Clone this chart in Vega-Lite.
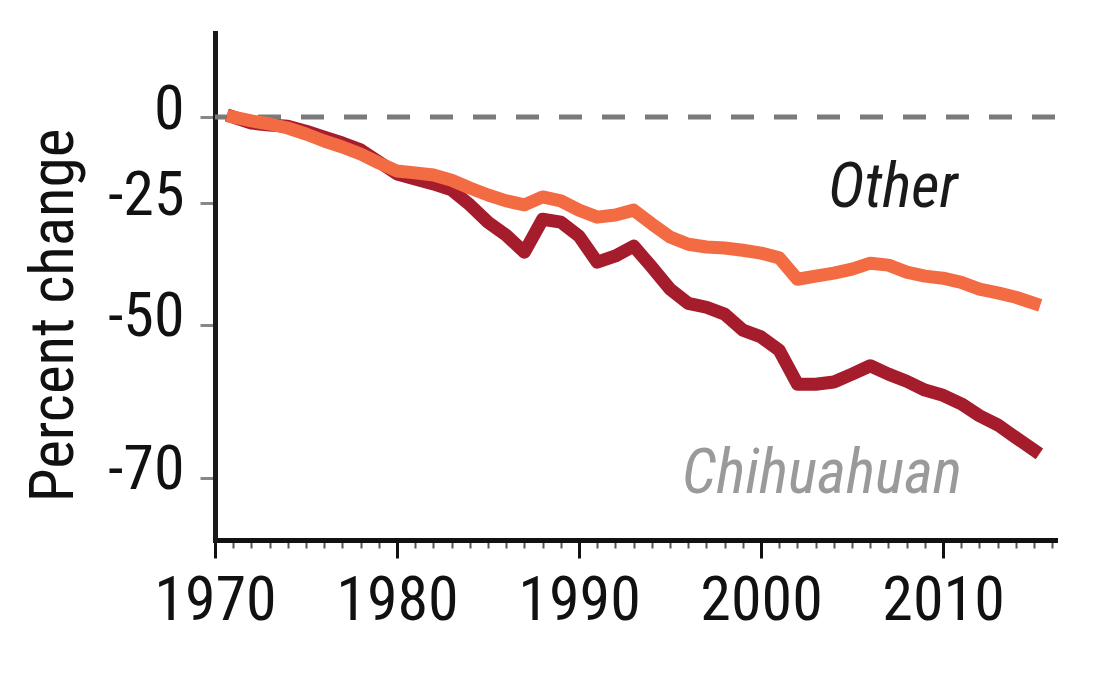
{
  "$schema": "https://vega.github.io/schema/vega-lite/v6.json",
  "width": 840,
  "height": 507,
  "autosize": {"type": "none"},
  "padding": {"left": 215, "top": 33, "right": 39, "bottom": 141},
  "background": "white",
  "config": {
    "view": {"stroke": null},
    "font": "Roboto Condensed, Liberation Sans Narrow, DejaVu Sans Condensed, sans-serif",
    "axisY": {
      "grid": false,
      "domainColor": "#1a1a1a",
      "domainWidth": 5,
      "domainCap": "square",
      "tickColor": "#888888",
      "tickWidth": 3,
      "tickSize": 15,
      "labelFontSize": 62,
      "labelColor": "#111111",
      "labelPadding": 16,
      "labelOffset": -8,
      "labelOverlap": false,
      "labelFlush": false,
      "titleFontSize": 61,
      "titleFontWeight": "normal",
      "titleColor": "#111111",
      "titleAngle": -90,
      "titleX": -143,
      "titleY": 282,
      "titleBaseline": "alphabetic",
      "titleAlign": "center"
    }
  },
  "datasets": {
    "trend": [
      {"year": 1971, "series": "Other", "value": 1.000},
      {"year": 1972, "series": "Other", "value": 0.987},
      {"year": 1973, "series": "Other", "value": 0.977},
      {"year": 1974, "series": "Other", "value": 0.964},
      {"year": 1975, "series": "Other", "value": 0.945},
      {"year": 1976, "series": "Other", "value": 0.923},
      {"year": 1977, "series": "Other", "value": 0.905},
      {"year": 1978, "series": "Other", "value": 0.884},
      {"year": 1979, "series": "Other", "value": 0.858},
      {"year": 1980, "series": "Other", "value": 0.835},
      {"year": 1981, "series": "Other", "value": 0.830},
      {"year": 1982, "series": "Other", "value": 0.824},
      {"year": 1983, "series": "Other", "value": 0.810},
      {"year": 1984, "series": "Other", "value": 0.789},
      {"year": 1985, "series": "Other", "value": 0.771},
      {"year": 1986, "series": "Other", "value": 0.756},
      {"year": 1987, "series": "Other", "value": 0.746},
      {"year": 1988, "series": "Other", "value": 0.766},
      {"year": 1989, "series": "Other", "value": 0.756},
      {"year": 1990, "series": "Other", "value": 0.733},
      {"year": 1991, "series": "Other", "value": 0.716},
      {"year": 1992, "series": "Other", "value": 0.721},
      {"year": 1993, "series": "Other", "value": 0.733},
      {"year": 1994, "series": "Other", "value": 0.700},
      {"year": 1995, "series": "Other", "value": 0.670},
      {"year": 1996, "series": "Other", "value": 0.654},
      {"year": 1997, "series": "Other", "value": 0.648},
      {"year": 1998, "series": "Other", "value": 0.646},
      {"year": 1999, "series": "Other", "value": 0.641},
      {"year": 2000, "series": "Other", "value": 0.635},
      {"year": 2001, "series": "Other", "value": 0.625},
      {"year": 2002, "series": "Other", "value": 0.582},
      {"year": 2003, "series": "Other", "value": 0.588},
      {"year": 2004, "series": "Other", "value": 0.594},
      {"year": 2005, "series": "Other", "value": 0.602},
      {"year": 2006, "series": "Other", "value": 0.614},
      {"year": 2007, "series": "Other", "value": 0.610},
      {"year": 2008, "series": "Other", "value": 0.596},
      {"year": 2009, "series": "Other", "value": 0.588},
      {"year": 2010, "series": "Other", "value": 0.584},
      {"year": 2011, "series": "Other", "value": 0.576},
      {"year": 2012, "series": "Other", "value": 0.563},
      {"year": 2013, "series": "Other", "value": 0.556},
      {"year": 2014, "series": "Other", "value": 0.548},
      {"year": 2015, "series": "Other", "value": 0.537},
      {"year": 1971, "series": "Chihuahuan", "value": 1.000},
      {"year": 1972, "series": "Chihuahuan", "value": 0.980},
      {"year": 1973, "series": "Chihuahuan", "value": 0.974},
      {"year": 1974, "series": "Chihuahuan", "value": 0.970},
      {"year": 1975, "series": "Chihuahuan", "value": 0.954},
      {"year": 1976, "series": "Chihuahuan", "value": 0.935},
      {"year": 1977, "series": "Chihuahuan", "value": 0.917},
      {"year": 1978, "series": "Chihuahuan", "value": 0.896},
      {"year": 1979, "series": "Chihuahuan", "value": 0.861},
      {"year": 1980, "series": "Chihuahuan", "value": 0.827},
      {"year": 1981, "series": "Chihuahuan", "value": 0.813},
      {"year": 1982, "series": "Chihuahuan", "value": 0.800},
      {"year": 1983, "series": "Chihuahuan", "value": 0.784},
      {"year": 1984, "series": "Chihuahuan", "value": 0.746},
      {"year": 1985, "series": "Chihuahuan", "value": 0.704},
      {"year": 1986, "series": "Chihuahuan", "value": 0.674},
      {"year": 1987, "series": "Chihuahuan", "value": 0.637},
      {"year": 1988, "series": "Chihuahuan", "value": 0.711},
      {"year": 1989, "series": "Chihuahuan", "value": 0.704},
      {"year": 1990, "series": "Chihuahuan", "value": 0.672},
      {"year": 1991, "series": "Chihuahuan", "value": 0.616},
      {"year": 1992, "series": "Chihuahuan", "value": 0.629},
      {"year": 1993, "series": "Chihuahuan", "value": 0.650},
      {"year": 1994, "series": "Chihuahuan", "value": 0.606},
      {"year": 1995, "series": "Chihuahuan", "value": 0.563},
      {"year": 1996, "series": "Chihuahuan", "value": 0.537},
      {"year": 1997, "series": "Chihuahuan", "value": 0.530},
      {"year": 1998, "series": "Chihuahuan", "value": 0.518},
      {"year": 1999, "series": "Chihuahuan", "value": 0.491},
      {"year": 2000, "series": "Chihuahuan", "value": 0.480},
      {"year": 2001, "series": "Chihuahuan", "value": 0.459},
      {"year": 2002, "series": "Chihuahuan", "value": 0.410},
      {"year": 2003, "series": "Chihuahuan", "value": 0.410},
      {"year": 2004, "series": "Chihuahuan", "value": 0.413},
      {"year": 2005, "series": "Chihuahuan", "value": 0.424},
      {"year": 2006, "series": "Chihuahuan", "value": 0.436},
      {"year": 2007, "series": "Chihuahuan", "value": 0.424},
      {"year": 2008, "series": "Chihuahuan", "value": 0.414},
      {"year": 2009, "series": "Chihuahuan", "value": 0.402},
      {"year": 2010, "series": "Chihuahuan", "value": 0.395},
      {"year": 2011, "series": "Chihuahuan", "value": 0.384},
      {"year": 2012, "series": "Chihuahuan", "value": 0.369},
      {"year": 2013, "series": "Chihuahuan", "value": 0.358},
      {"year": 2014, "series": "Chihuahuan", "value": 0.343},
      {"year": 2015, "series": "Chihuahuan", "value": 0.329}
    ]
  },
  "layer": [
    {
      "data": {"values": [{}]},
      "mark": {"type": "rule", "strokeDash": [23, 20], "color": "#7a7a7a", "strokeWidth": 5},
      "encoding": {
        "y": {"datum": 1, "type": "quantitative", "title": "Percent change",
              "scale": {"type": "log", "domain": [0.24373, 1.3238], "nice": false},
              "axis": {"values": [1, 0.75, 0.5, 0.3],
                       "labelExpr": "datum.value == 1 ? '0' : '-' + format((1 - datum.value) * 100, '.0f')"}}
      }
    },
    {
      "data": {"name": "trend"},
      "transform": [{"filter": "datum.series == 'Chihuahuan'"}],
      "mark": {"type": "line", "color": "#A51C2C", "strokeWidth": 13, "strokeJoin": "round", "strokeCap": "square"},
      "encoding": {
        "x": {"field": "year", "type": "quantitative",
              "scale": {"domain": [1970, 2016.15], "nice": false, "zero": false},
              "axis": {"orient": "bottom", "values": [1970,1971,1972,1973,1974,1975,1976,1977,1978,1979,1980,1981,1982,1983,1984,1985,1986,1987,1988,1989,1990,1991,1992,1993,1994,1995,1996,1997,1998,1999,2000,2001,2002,2003,2004,2005,2006,2007,2008,2009,2010,2011,2012,2013,2014,2015,2016],
                       "labels": false, "domain": false, "grid": false, "title": null,
                       "tickSize": 8, "tickWidth": 2, "tickColor": "#555555"}},
        "y": {"field": "value", "type": "quantitative", "title": "Percent change",
              "scale": {"type": "log", "domain": [0.24373, 1.3238], "nice": false}}
      }
    },
    {
      "data": {"name": "trend"},
      "transform": [{"filter": "datum.series == 'Other'"}],
      "mark": {"type": "line", "color": "#F26B43", "strokeWidth": 13, "strokeJoin": "round", "strokeCap": "square"},
      "encoding": {
        "x": {"field": "year", "type": "quantitative",
              "scale": {"domain": [1970, 2016.15], "nice": false, "zero": false},
              "axis": {"orient": "bottom", "values": [1970, 1980, 1990, 2000, 2010], "format": "d",
                       "grid": false, "title": null, "labelOverlap": false, "labelFlush": false,
                       "domainColor": "#111111", "domainWidth": 5, "domainCap": "square",
                       "tickSize": 18, "tickWidth": 3, "tickColor": "#111111",
                       "labelFontSize": 62, "labelColor": "#111111", "labelPadding": 12}},
        "y": {"field": "value", "type": "quantitative", "title": "Percent change",
              "scale": {"type": "log", "domain": [0.24373, 1.3238], "nice": false}}
      }
    },
    {
      "data": {"values": [{"year": 2007.25, "value": 0.7407, "label": "Other"}]},
      "mark": {"type": "text", "fontStyle": "italic", "fontSize": 62, "color": "#1a1a1a", "align": "center", "baseline": "alphabetic"},
      "encoding": {
        "x": {"field": "year", "type": "quantitative", "axis": null},
        "y": {"field": "value", "type": "quantitative", "title": "Percent change",
              "scale": {"type": "log", "domain": [0.24373, 1.3238], "nice": false}},
        "text": {"field": "label"}
      }
    },
    {
      "data": {"values": [{"year": 2003.35, "value": 0.2851, "label": "Chihuahuan"}]},
      "mark": {"type": "text", "fontStyle": "italic", "fontSize": 62, "color": "#9a9a9a", "align": "center", "baseline": "alphabetic"},
      "encoding": {
        "x": {"field": "year", "type": "quantitative", "axis": null},
        "y": {"field": "value", "type": "quantitative", "title": "Percent change",
              "scale": {"type": "log", "domain": [0.24373, 1.3238], "nice": false}},
        "text": {"field": "label"}
      }
    }
  ],
  "resolve": {"axis": {"x": "independent"}}
}
